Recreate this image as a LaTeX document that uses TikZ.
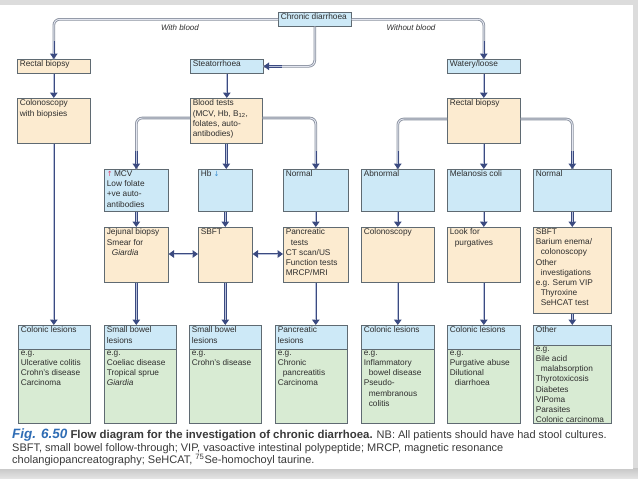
\documentclass[tikz,border=0pt]{standalone}
\usepackage{fontspec}
\setmainfont{Liberation Sans}
\newfontfamily\symf{DejaVu Sans}
\usetikzlibrary{arrows.meta,shadows,calc}
\definecolor{bluef}{HTML}{CDE9F7}
\definecolor{peachf}{HTML}{FCEBD0}
\definecolor{greenf}{HTML}{D8EBD3}
\definecolor{bordc}{HTML}{5F6A72}
\definecolor{navyc}{HTML}{3B4A80}
\definecolor{pipein}{HTML}{B8C1DA}
\definecolor{pipegc}{HTML}{8A919F}
\definecolor{txtc}{HTML}{2E2E2E}
\definecolor{figblue}{HTML}{2F6DB5}
\definecolor{capc}{HTML}{3A3A3A}
\definecolor{frameg}{HTML}{DCDCDC}
\definecolor{upred}{HTML}{E0406A}
\definecolor{downblue}{HTML}{3A8FD0}
\newcommand\fs{\fontsize{8.3}{10.2}\selectfont}
\newcommand\capfs{\fontsize{11}{12.4}\selectfont}
\newcommand\ind{\hspace*{5pt}}
\newcommand\mkbox[7]{%
  \pgfmathsetmacro\mkbw{#5-#3-5}%
  \pgfmathsetmacro\mkbh{#6-#4-3}%
  \node[#2] (#1) at (#3,#4) {\parbox[t][\mkbh pt][t]{\mkbw pt}{\raggedright #7}};}
\tikzset{
  box/.style={draw=bordc, line width=0.6pt, inner xsep=2.5pt, inner ysep=1.5pt,
    anchor=north west, font=\fs, text=txtc,
    drop shadow={shadow xshift=0.7pt, shadow yshift=-0.7pt, opacity=0.3, fill=black}},
  bbox/.style={box, fill=bluef},
  pbox/.style={box, fill=peachf},
  gbox/.style={box, fill=greenf},
  pipe/.style={draw=navyc, line width=2.6pt, -{Triangle[length=5.5pt,width=7.5pt]},
    postaction={draw=pipein, line width=0.9pt, -, shorten >=5.5pt}},
  dpipe/.style={draw=navyc, line width=2.6pt, {Triangle[length=5.5pt,width=7.5pt]}-{Triangle[length=5.5pt,width=7.5pt]},
    postaction={draw=pipein, line width=0.9pt, -, shorten >=5.5pt, shorten <=5.5pt}},
  pipeg/.style={draw=pipegc, line width=2.6pt, rounded corners=6pt,
    postaction={draw=white!60!pipein, line width=0.9pt}},
  lbl/.style={font=\fontsize{8}{9}\selectfont\itshape, text=txtc, inner sep=0pt}
}
\begin{document}
\begin{tikzpicture}[x=1pt,y=-1pt]
\useasboundingbox (0,0) rectangle (638,479);
\fill[frameg] (0,0) rectangle (638,479);
\shade[top color=black!22, bottom color=black!10] (0,468) rectangle (638,479);
\fill[white] (0,5) rectangle (633,469);

% top
\mkbox{chronic}{bbox}{278}{12}{351}{26}{Chronic diarrhoea}
\mkbox{rb1}{pbox}{17}{59}{90}{73}{Rectal biopsy}
\mkbox{steat}{bbox}{190}{59}{263}{73}{Steatorrhoea}
\mkbox{watery}{bbox}{447}{59}{520}{73}{Watery/loose}
% row 2
\mkbox{colon1}{pbox}{17}{98}{90}{143}{Colonoscopy\\with biopsies}
\mkbox{blood}{pbox}{190}{98}{262}{143}{Blood tests\\(MCV, Hb, B\textsubscript{12},\\folates, auto-\\antibodies)}
\mkbox{rb2}{pbox}{447}{98}{520}{143}{Rectal biopsy}
% row 3
\mkbox{mcv}{bbox}{104}{169}{168}{211}{{\symf\color{upred}\raisebox{0.5pt}{\fontsize{7}{7}\selectfont↑}}\,MCV\\Low folate\\+ve auto-\\antibodies}
\mkbox{hb}{bbox}{198}{169}{252}{211}{Hb {\symf\color{downblue}\fontsize{7}{7}\selectfont↓}}
\mkbox{norm1}{bbox}{283}{169}{348}{211}{Normal}
\mkbox{abn}{bbox}{361}{169}{434}{211}{Abnormal}
\mkbox{mel}{bbox}{447}{169}{520}{211}{Melanosis coli}
\mkbox{norm2}{bbox}{533}{169}{611}{211}{Normal}
% row 4
\mkbox{jej}{pbox}{104}{227}{168}{282}{Jejunal biopsy\\Smear for\\\ind\textit{Giardia}}
\mkbox{sbft}{pbox}{198}{227}{252}{282}{SBFT}
\mkbox{panc}{pbox}{283}{227}{348}{282}{Pancreatic\\\ind tests\\CT scan/US\\Function tests\\MRCP/MRI}
\mkbox{colo2}{pbox}{361}{227}{434}{282}{Colonoscopy}
\mkbox{look}{pbox}{447}{227}{520}{282}{Look for\\\ind purgatives}
\mkbox{sbft2}{pbox}{533}{227}{611}{313}{SBFT\\Barium enema/\\\ind colonoscopy\\Other\\\ind investigations\\e.g. Serum VIP\\\ind Thyroxine\\\ind SeHCAT test}
% row 5
\mkbox{cl1h}{bbox}{18}{325}{90}{349}{Colonic lesions}
\mkbox{cl1b}{gbox}{18}{349}{90}{423}{e.g.\\Ulcerative colitis\\Crohn's disease\\Carcinoma}
\mkbox{sb1h}{bbox}{104}{325}{176}{349}{Small bowel\\lesions}
\mkbox{sb1b}{gbox}{104}{349}{176}{423}{e.g.\\Coeliac disease\\Tropical sprue\\\textit{Giardia}}
\mkbox{sb2h}{bbox}{189}{325}{261}{349}{Small bowel\\lesions}
\mkbox{sb2b}{gbox}{189}{349}{261}{423}{e.g.\\Crohn's disease}
\mkbox{plh}{bbox}{275}{325}{347}{349}{Pancreatic\\lesions}
\mkbox{plb}{gbox}{275}{349}{347}{423}{e.g.\\Chronic\\\ind pancreatitis\\Carcinoma}
\mkbox{cl2h}{bbox}{361}{325}{434}{349}{Colonic lesions}
\mkbox{cl2b}{gbox}{361}{349}{434}{423}{e.g.\\Inflammatory\\\ind bowel disease\\Pseudo-\\\ind membranous\\\ind colitis}
\mkbox{cl3h}{bbox}{447}{325}{520}{349}{Colonic lesions}
\mkbox{cl3b}{gbox}{447}{349}{520}{423}{e.g.\\Purgative abuse\\Dilutional\\\ind diarrhoea}
\mkbox{othh}{bbox}{533}{325}{611}{345}{Other}
\mkbox{othb}{gbox}{533}{345}{611}{423}{e.g.\\Bile acid\\\ind malabsorption\\Thyrotoxicosis\\Diabetes\\VIPoma\\Parasites\\Colonic carcinoma}

% labels
\node[lbl] (wb) at (180,28) {With blood};
\node[lbl] (wob) at (411,28) {Without blood};

% connectors
\draw[pipeg] (chronic.west) -| (rb1.north);
\draw[pipe] ($(rb1.north)+(0,-18)$) -- (rb1.north);
\draw[pipeg] (chronic.east) -| (watery.north);
\draw[pipe] ($(watery.north)+(0,-18)$) -- (watery.north);
\draw[pipeg] (chronic.south) |- (steat.east);
\draw[pipe] ($(steat.east)+(18,0)$) -- (steat.east);

\draw[pipe] (rb1.south) -- (colon1.north);
\draw[pipe] (steat.south) -- (steat.south |- blood.north);
\draw[pipe] (watery.south) -- (rb2.north);
\draw[pipe] (colon1.south) -- (colon1.south |- cl1h.north);

\draw[pipeg] ($(blood.north west)+(0,20)$) -| (mcv.north);
\draw[pipe] ($(mcv.north)+(0,-18)$) -- (mcv.north);
\draw[pipe] (blood.south) -- (blood.south |- hb.north);
\draw[pipeg] ($(blood.north east)+(0,20)$) -| (norm1.north);
\draw[pipe] ($(norm1.north)+(0,-18)$) -- (norm1.north);

\draw[pipeg] ($(rb2.north west)+(0,21)$) -| (abn.north);
\draw[pipe] ($(abn.north)+(0,-18)$) -- (abn.north);
\draw[pipe] (rb2.south) -- (mel.north);
\draw[pipeg] ($(rb2.north east)+(0,21)$) -| (norm2.north);
\draw[pipe] ($(norm2.north)+(0,-18)$) -- (norm2.north);

\draw[pipe] (mcv.south) -- (jej.north);
\draw[pipe] (hb.south) -- (sbft.north);
\draw[pipe] (norm1.south) -- (panc.north);
\draw[pipe] (abn.south) -- (colo2.north);
\draw[pipe] (mel.south) -- (look.north);
\draw[pipe] (norm2.south) -- (sbft2.north);

\draw[pipe] (jej.south) -- (jej.south |- sb1h.north);
\draw[pipe] (sbft.south) -- (sbft.south |- sb2h.north);
\draw[pipe] (panc.south) -- (panc.south |- plh.north);
\draw[pipe] (colo2.south) -- (colo2.south |- cl2h.north);
\draw[pipe] (look.south) -- (look.south |- cl3h.north);
\draw[pipe] (sbft2.south) -- (sbft2.south |- othh.north);

\draw[dpipe] ($(jej.north east)+(0,27)$) -- ($(sbft.north west)+(0,27)$);
\draw[dpipe] ($(sbft.north east)+(0,27)$) -- ($(panc.north west)+(0,27)$);

% caption
\node[anchor=north west, inner sep=0pt, align=left, font=\capfs, text=capc] (cap) at (12,429)
 {{\color{figblue}\fontsize{13.5}{12.4}\selectfont\bfseries\itshape Fig. 6.50} {\fontsize{11.4}{12.4}\selectfont\bfseries Flow diagram for the investigation of chronic diarrhoea.} NB: All patients should have had stool cultures.\\
  SBFT, small bowel follow-through; VIP, vasoactive intestinal polypeptide; MRCP, magnetic resonance\\
  cholangiopancreatography; SeHCAT, \textsuperscript{75}Se-homochoyl taurine.};
\end{tikzpicture}
\end{document}
